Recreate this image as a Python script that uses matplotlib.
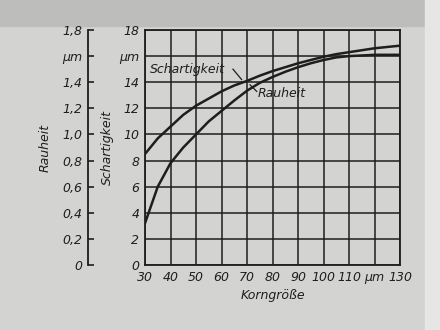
import matplotlib.pyplot as plt
from matplotlib.patches import Rectangle

# grain size (µm) and the two curves
korn = [30, 35, 40, 45, 50, 55, 60, 65, 70, 75, 80, 85, 90, 95, 100, 105, 110, 115, 120, 125, 130]
schartigkeit = [8.5, 9.7, 10.6, 11.5, 12.2, 12.75, 13.3, 13.75, 14.1, 14.5, 14.85, 15.15, 15.45,
                15.7, 15.95, 16.15, 16.3, 16.45, 16.6, 16.7, 16.8]
rauheit = [3.2, 6.0, 7.8, 9.0, 10.0, 11.0, 11.8, 12.6, 13.35, 13.95, 14.4, 14.8, 15.15,
           15.45, 15.7, 15.9, 16.0, 16.05, 16.1, 16.1, 16.1]

x_ticks = [30, 40, 50, 60, 70, 80, 90, 100, 110, 120, 130]
x_labels = ['30', '40', '50', '60', '70', '80', '90', '100', '110', 'µm', '130']
y_ticks = [0, 2, 4, 6, 8, 10, 12, 14, 16, 18]
y_labels = ['0', '2', '4', '6', '8', '10', '12', '14', 'µm', '18']
r_ticks = [0, 0.2, 0.4, 0.6, 0.8, 1.0, 1.2, 1.4, 1.6, 1.8]
r_labels = ['0', '0,2', '0,4', '0,6', '0,8', '1,0', '1,2', '1,4', 'µm', '1,8']

bg = '#d3d3d1'
ink = '#1e1e1e'
plt.rcParams['font.family'] = ['DejaVu Sans']
plt.rcParams['font.style'] = 'italic'

fig = plt.figure(figsize=(4.4, 3.3), dpi=100, facecolor=bg)
fig.patches.append(Rectangle((0, 0.92), 1, 0.08, transform=fig.transFigure,
                             color='#bdbdbb', zorder=-1))
fig.patches.append(Rectangle((0.965, 0), 0.035, 1, transform=fig.transFigure,
                             color='#e6e6e4', zorder=-1))

ax = fig.add_axes([145 / 440, 1 - 265 / 330, 255 / 440, 235 / 330])
ax.set_facecolor(bg)
ax.plot(korn, schartigkeit, color=ink, lw=1.8)
ax.plot(korn, rauheit, color=ink, lw=1.8)

ax.set_xlim(30, 130)
ax.set_ylim(0, 18)
ax.set_xticks(x_ticks)
ax.set_xticklabels(x_labels)
ax.set_yticks(y_ticks)
ax.set_yticklabels(y_labels)
ax.grid(True, color=ink, lw=1.1)
ax.tick_params(length=0, labelsize=9, colors=ink, pad=4)
for s in ax.spines.values():
    s.set_color(ink)
    s.set_linewidth(1.3)
ax.set_xlabel('Korngröße', fontsize=9, color=ink, labelpad=4)
ax.set_ylabel('Schartigkeit', fontsize=9, color=ink, labelpad=4)

# the separate Rauheit scale on the far left
ax2 = ax.twinx()
ax2.set_ylim(0, 1.8)
ax2.yaxis.set_ticks_position('left')
ax2.yaxis.set_label_position('left')
ax2.spines['left'].set_position(('axes', -57 / 255))
for k in ['right', 'top', 'bottom']:
    ax2.spines[k].set_visible(False)
ax2.spines['left'].set_color(ink)
ax2.spines['left'].set_linewidth(1.3)
ax2.set_yticks(r_ticks)
ax2.set_yticklabels(r_labels)
ax2.tick_params(direction='in', length=4, width=1.2, labelsize=9, colors=ink, pad=4)
ax2.set_ylabel('Rauheit', fontsize=9, color=ink, labelpad=8)

# curve labels with short leaders
ax.text(32.0, 15.0, 'Schartigkeit', fontsize=9, color=ink, va='center', ha='left')
ax.plot([64.5, 67.9], [15.0, 14.2], color=ink, lw=0.9)
ax.text(74.3, 13.1, 'Rauheit', fontsize=9, color=ink, va='center', ha='left')
ax.plot([71.2, 73.8], [13.8, 13.3], color=ink, lw=0.9)

fig.savefig('out.png', dpi=100, facecolor=bg)
